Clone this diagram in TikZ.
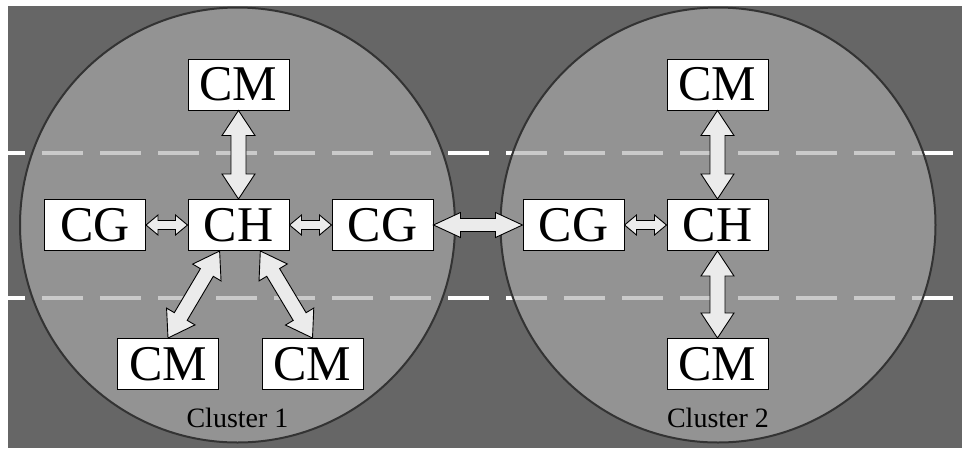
\documentclass[tikz,border=0pt]{standalone}
\usepackage{fontspec}
\setmainfont{Liberation Serif}
\usepackage{tikz}
\usetikzlibrary{calc,positioning}
\tikzset{
    road/.style={fill=black!60},
    lane/.style={draw=white, line width=4.5pt, dash pattern=on 41pt off 17pt, dash phase=24pt},
    cluster/.style={draw=black!80, line width=2pt, fill=black!32, fill opacity=0.64},
    unit/.style={
        rectangle,
        draw=black, line width=1pt,
        fill=white,
        minimum width=101pt,
        minimum height=51pt,
        inner sep=0pt,
        font={\fontsize{50pt}{50pt}\selectfont}
    },
    clusterlabel/.style={font={\fontsize{28pt}{28pt}\selectfont}},
    blockarrow/.style={draw=black, line width=0.9pt, fill=black!8, line join=miter},
}
% #1 from, #2 to, #3 half shaft, #4 half head, #5 head length
\newcommand\dblarrow[5]{%
  \path (#1) coordinate (ba-s) (#2) coordinate (ba-e);
  \path ($(ba-s)!#5!(ba-e)$) coordinate (ba-s1) ($(ba-e)!#5!(ba-s)$) coordinate (ba-e1);
  \draw[blockarrow] (ba-s)
    -- ($(ba-s1)!#4!90:(ba-e)$) -- ($(ba-s1)!#3!90:(ba-e)$)
    -- ($(ba-e1)!#3!-90:(ba-s)$) -- ($(ba-e1)!#4!-90:(ba-s)$)
    -- (ba-e)
    -- ($(ba-e1)!#4!90:(ba-s)$) -- ($(ba-e1)!#3!90:(ba-s)$)
    -- ($(ba-s1)!#3!-90:(ba-e)$) -- ($(ba-s1)!#4!-90:(ba-e)$) -- cycle;
}

\begin{document}
\begin{tikzpicture}[x=1pt, y=-1pt]

\useasboundingbox (0,0) rectangle (962,448);
\fill[road] (8,6) rectangle (962,448);

\foreach \y in {153, 298}
  \draw[lane] (8,\y) -- (962,\y);

\foreach \x/\n in {237.5/1, 718/2} {
  \draw[cluster] (\x,225) circle (217.5);
  \node[clusterlabel] (label-\n) at (\x,418) {Cluster \n};
}

% cluster 1
\foreach \n/\t/\x/\y in {cm-top/CM/238.5/84.5, cg-left/CG/95/225, ch-one/CH/238.5/225,
    cg-right/CG/382.5/225, cm-left/CM/168/364, cm-right/CM/312.5/364}
  \node[unit] (\n) at (\x,\y) {\t};

% cluster 2
\foreach \n/\t/\x/\y in {cm-up/CM/717.5/84.5, cg-two/CG/573.5/225,
    ch-two/CH/717.5/225, cm-down/CM/717.5/364}
  \node[unit] (\n) at (\x,\y) {\t};

\foreach \a/\b in {cm-top.south/ch-one.north, ch-one.234.6/cm-left.north,
    ch-one.310.9/cm-right.north, cm-up.south/ch-two.north, ch-two.south/cm-down.north}
  \dblarrow{\a}{\b}{7.5pt}{16.5pt}{25pt};

\foreach \a/\b in {cg-left.east/ch-one.west, ch-one.east/cg-right.west, cg-two.east/ch-two.west}
  \dblarrow{\a}{\b}{4.5pt}{10pt}{12pt};

\dblarrow{cg-right.east}{cg-two.west}{6.5pt}{12.5pt}{27pt};

\end{tikzpicture}
\end{document}
